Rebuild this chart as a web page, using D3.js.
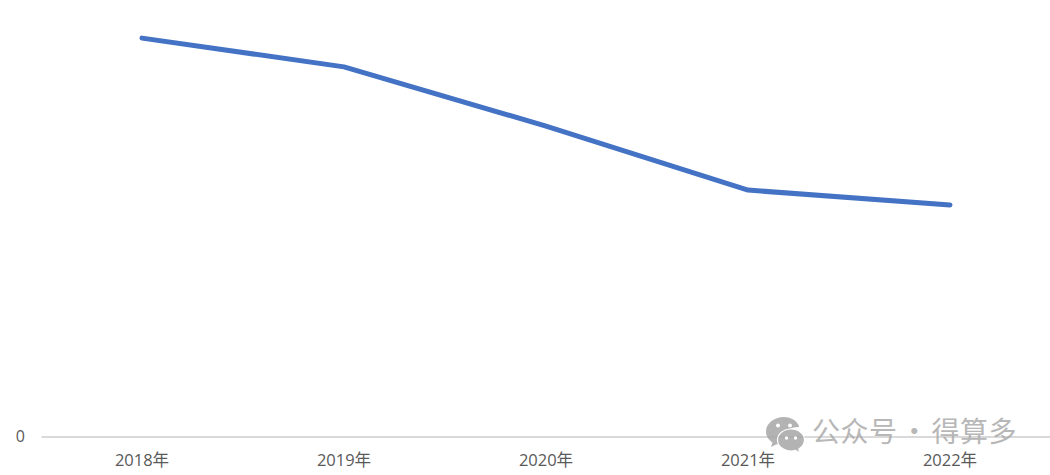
<!DOCTYPE html>
<html>
<head>
<meta charset="utf-8">
<script src="https://d3js.org/d3.v7.min.js"></script>
<style>
  html, body { margin: 0; padding: 0; background: #fff; }
  svg { display: block; }
</style>
</head>
<body>
<svg id="chart"></svg>
<script>
// values, the y axis only labels 0 so the unit is relative
const years = ['2018年', '2019年', '2020年', '2021年', '2022年']
const values = [99.6, 92.4, 77.6, 61.6, 57.9]
const yTicks = [0]

const width = 1050
const height = 475
const margin = { top: 36.5, right: 0, bottom: 38.5, left: 41 }

const svg = d3.select('#chart').attr('width', width).attr('height', height)

const x = d3.scaleBand().domain(years).range([margin.left, width - margin.right + 1])
const y = d3.scaleLinear().domain([0, 100]).range([height - margin.bottom, margin.top])
const xCenter = d => x(d) + x.bandwidth() / 2

// axes
const xAxis = svg.append('g')
  .attr('transform', `translate(0,${height - margin.bottom})`)
  .call(d3.axisBottom(x).tickSize(0).tickPadding(18))
xAxis.select('.domain').attr('stroke', '#d9d9d9').attr('stroke-width', 2)
xAxis.selectAll('text')
  .attr('fill', '#595959')
  .style('font-family', '"Open Sans", "Noto Sans CJK SC", sans-serif')
  .style('font-size', '16.5px')

const yAxis = svg.append('g')
  .attr('transform', `translate(${margin.left},0)`)
  .call(d3.axisLeft(y).tickValues(yTicks).tickSize(0).tickPadding(16))
yAxis.select('.domain').remove()
yAxis.selectAll('text')
  .attr('fill', '#595959')
  .style('font-family', '"Open Sans", sans-serif')
  .style('font-size', '16px')

// the line
const line = d3.line()
  .x((d, i) => xCenter(years[i]))
  .y(d => y(d))

svg.append('path')
  .datum(values)
  .attr('d', line)
  .attr('fill', 'none')
  .attr('stroke', '#4472c4')
  .attr('stroke-width', 5)
  .attr('stroke-linecap', 'round')
  .attr('stroke-linejoin', 'round')

// watermark, bottom right
const mark = svg.append('g').attr('fill', '#a6a6a6').attr('opacity', 0.85)

mark.append('path')
  .attr('d', 'M784 417c-10 0-18 6.500-18 14.500 0 4.500 2.500 8.500 6.500 11l-1.500 4.500 5.500-2.800c1.800.5 3.500.8 5.500.8h1c-.6-1.500-1-3-1-4.700 0-7.500 7.300-13.300 16.300-13.300h1c-1.700-5.800-8-10-15.300-10z')
mark.append('path')
  .attr('d', 'M791 429c-7.500 0-13.500 4.900-13.500 11s6 11 13.500 11c1.600 0 3-.2 4.400-.6l4.600 2.600-1.200-4c3.200-2.100 5.700-5.200 5.700-9 0-6.100-6-11-13.500-11z')
  .attr('stroke', '#fff')
  .attr('stroke-width', 1.2)
mark.selectAll('circle')
  .data([[778, 425.5, 2], [790, 425.500, 2], [786.500, 438, 1.700], [795.500, 438, 1.700]])
  .join('circle')
  .attr('cx', d => d[0])
  .attr('cy', d => d[1])
  .attr('r', d => d[2])
  .attr('fill', '#fff')

svg.append('text')
  .attr('x', 812)
  .attr('y', 442)
  .attr('fill', '#a6a6a6')
  .attr('opacity', 0.8)
  .style('font-family', '"Noto Sans CJK SC", sans-serif')
  .style('font-size', '28px')
  .style('letter-spacing', '0.5px')
  .style('word-spacing', '-4px')
  .text('公众号 · 得算多')
</script>
</body>
</html>
